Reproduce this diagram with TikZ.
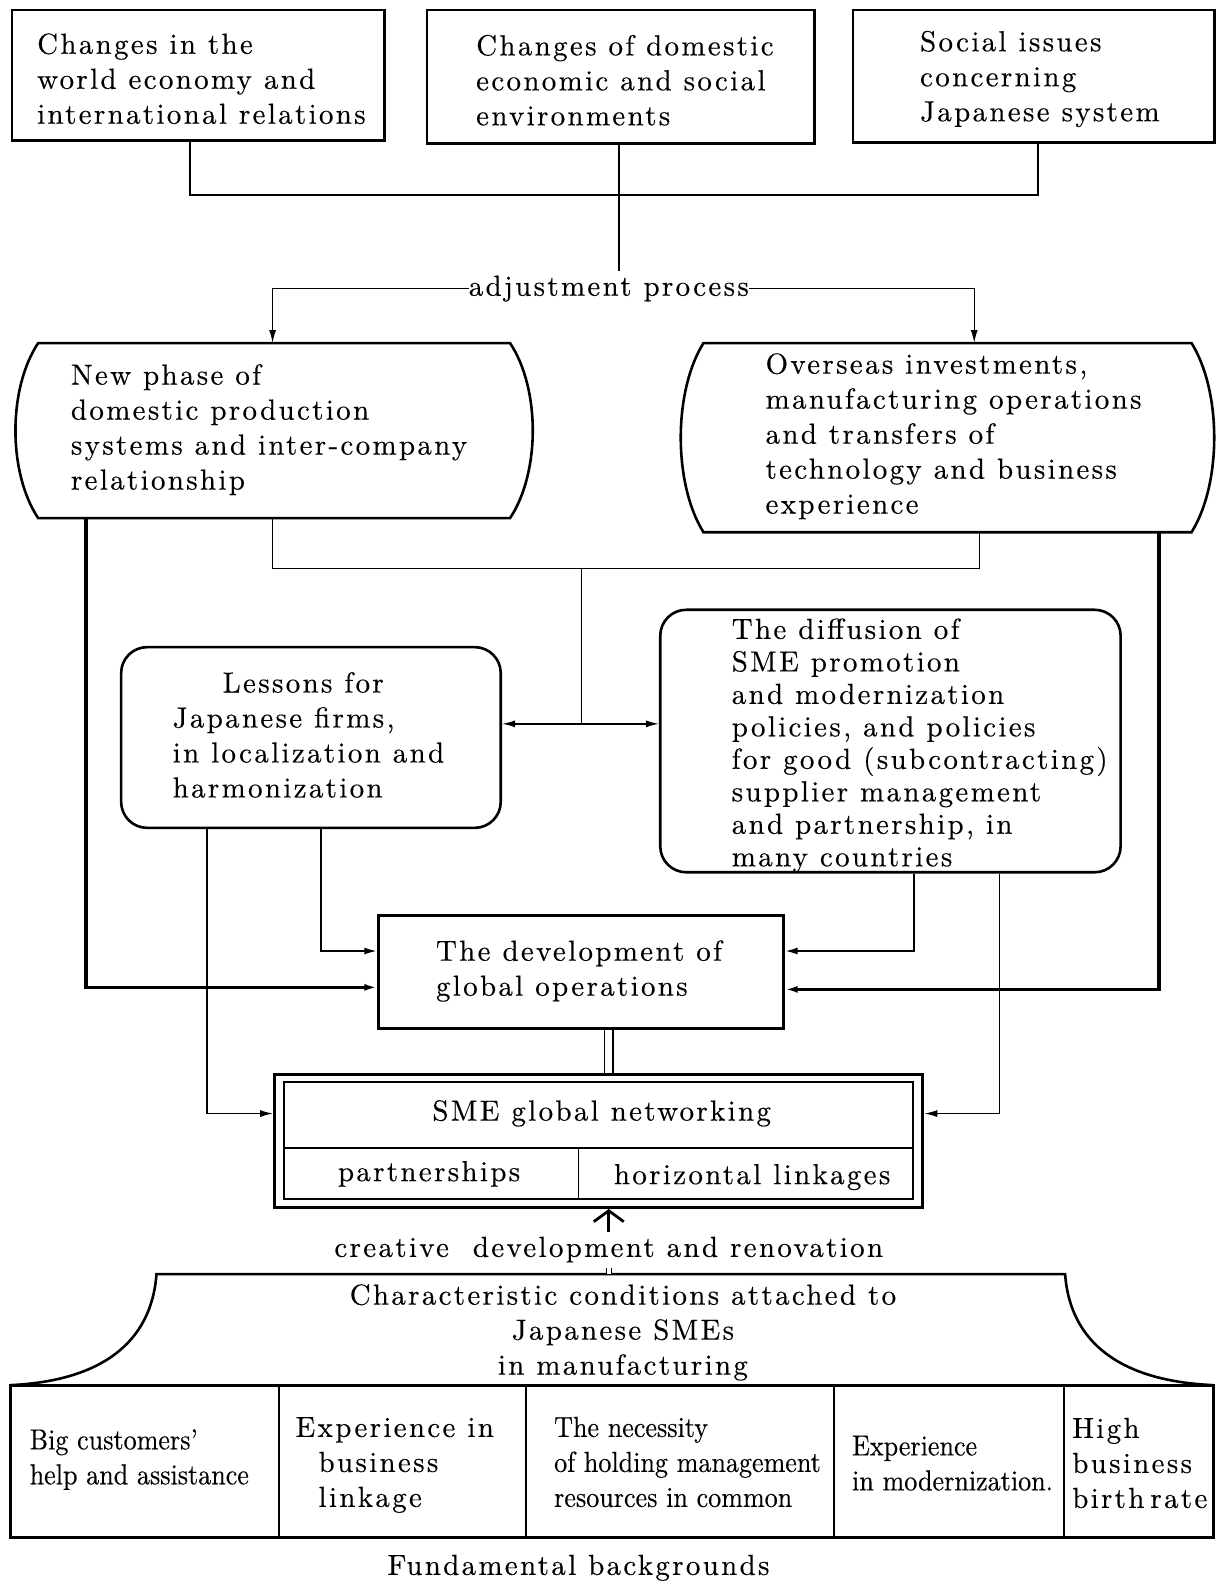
\documentclass[tikz,border=0pt]{standalone}
\usepackage{fontspec}
\usetikzlibrary{fit,arrows.meta,calc}
\newfontfamily\widefont{lmroman10-regular.otf}[LetterSpace=8,FakeBold=0.3]
\newfontfamily\plainfont{lmroman10-regular.otf}[FakeStretch=0.9,FakeBold=0.3]
\newcommand\myW{\widefont\fontsize{29}{35}\selectfont}
\newcommand\myWd{\widefont\fontsize{29}{32.5}\selectfont}
\newcommand\myP{\plainfont\fontsize{29}{35}\selectfont}
\newcommand\ml[1]{\begin{tabular}{@{}l@{}}#1\end{tabular}}
\newcommand\mc[1]{\begin{tabular}{@{}c@{}}#1\end{tabular}}
\tikzset{
  box/.style={draw, line width=2.6pt, inner sep=0pt},
  rbox/.style={box, rounded corners=26pt},
  hexi/.style={inner sep=0pt},
  txt/.style={inner sep=0pt, font=\myW},
  conn/.style={line width=1.4pt},
  med/.style={line width=2pt},
  thk/.style={line width=3.4pt},
  arr/.style={-{Latex[length=13pt,width=7pt]}},
  bw/.style={line width=2.6pt},
  cellb/.style={inner sep=0pt},
  smecell/.style={draw, line width=1.8pt, inner sep=0pt},
}
\begin{document}
\begin{tikzpicture}[x=1.01pt,y=-1.01pt]
\useasboundingbox (0,0) rectangle (1206,1568);
% top boxes
\node[box, fit={(12,10)(381,139)}] (b1) {};
\node[txt] (b1t) at (199.5,81) {\ml{Changes in the\\world economy and\\international relations}};
\node[box, fit={(423,10)(807,142)}] (b2) {};
\node[txt] (b2t) at (619,82.5) {\ml{Changes of domestic\\economic and social\\environments}};
\node[box, fit={(845,10)(1203,141)}] (b3) {};
\node[txt] (b3t) at (1030,78.5) {\ml{Social issues\\concerning\\Japanese system}};
\coordinate (j1) at (188,193);
\coordinate (j3) at (1028,193);
\coordinate (jm) at (613,193);
\draw[conn] (j1 |- b1.south) -- (j1) -- (j3) -- (j3 |- b3.south);
\node[txt] (adj) at (603,286) {\ml{adjustment process}};
\draw[conn] (jm |- b2.south) -- (jm |- adj.north);
% curved boxes
\node[hexi, fit={(38,340)(505,513)}] (h1) {};
\node[txt] (h1t) at (266.5,426) {\ml{New phase of\\domestic production\\systems and inter-company\\relationship}};
\draw[bw] (h1.north west) -- (h1.north east)
  .. controls ($(h1.north east)+(30,45)$) and ($(h1.south east)+(30,-45)$) .. (h1.south east)
  -- (h1.south west)
  .. controls ($(h1.south west)+(-30,-45)$) and ($(h1.north west)+(-30,45)$) .. (h1.north west) -- cycle;
\node[hexi, fit={(697,340)(1180,527)}] (h2) {};
\node[txt] (h2t) at (944.5,432.5) {\ml{Overseas investments,\\manufacturing operations\\and transfers of\\technology and business\\experience}};
\draw[bw] (h2.north west) -- (h2.north east)
  .. controls ($(h2.north east)+(30,48)$) and ($(h2.south east)+(30,-48)$) .. (h2.south east)
  -- (h2.south west)
  .. controls ($(h2.south west)+(-30,-48)$) and ($(h2.north west)+(-30,48)$) .. (h2.north west) -- cycle;
\coordinate (aL) at (270,286);
\coordinate (aR) at (965,286);
\draw[conn,arr] (adj.west) -- (aL) -- (aL |- h1.north);
\draw[conn,arr] (adj.east) -- (aR) -- (aR |- h2.north);
% middle boxes
\node[rbox, fit={(120,641)(496,820)}] (les) {};
\node[txt] (lest) at (305.5,731) {\ml{\hspace*{50pt}Lessons for\\Japanese firms,\\in localization and\\harmonization}};
\node[rbox, fit={(654,604)(1110,864)}] (dif) {};
\node[txt, font=\myWd] (dift) at (911,739) {\ml{The diffusion of\\SME promotion\\and modernization\\policies, and policies\\for good (subcontracting)\\supplier management\\and partnership, in\\many countries}};
\node[box, fit={(375,907)(776,1019)}] (dg) {};
\node[txt] (dgt) at (573.5,962) {\ml{The development of\\global operations}};
% connectors from curved boxes
\coordinate (m1) at (270,563);
\coordinate (m2) at (970,563);
\coordinate (m3) at (576,563);
\coordinate (m4) at (576,717);
\draw[conn] (m1 |- h1.south) -- (m1) -- (m2) -- (m2 |- h2.south);
\draw[conn] (m3) -- (m4);
\draw[conn,{Latex[length=13pt,width=7pt]}-{Latex[length=13pt,width=7pt]}] (les.east |- m4) -- (dif.west |- m4);
\coordinate (k1) at (85,978);
\coordinate (k2) at (1148,980);
\draw[thk,arr] (k1 |- h1.south) -- (k1) -- (k1 -| dg.west);
\draw[thk,arr] (k2 |- h2.south) -- (k2) -- (k2 -| dg.east);
% SME box
\node[draw, line width=3pt, inner sep=0pt, fit={(272,1064)(914,1196)}] (smeo) {};
\node[smecell, fit={(281,1072)(904,1137)}] (smet) {};
\node[smecell, fit={(281,1137)(573,1188)}] (smel) {};
\node[smecell, fit={(573,1137)(904,1188)}] (smer) {};
\node[txt] (smett) at (596,1103) {\ml{SME global networking}};
\node[txt] (smelt) at (425,1163) {\ml{partnerships}};
\node[txt] (smert) at (745,1166) {\ml{horizontal linkages}};
% connectors from middle boxes
\coordinate (l1) at (205,1103);
\coordinate (l2) at (318,942);
\coordinate (d1) at (905,942);
\coordinate (d2) at (990,1103);
\draw[conn,arr] (l1 |- les.south) -- (l1) -- (l1 -| smeo.west);
\draw[med,arr] (l2 |- les.south) -- (l2) -- (l2 -| dg.west);
\draw[med,arr] (d1 |- dif.south) -- (d1) -- (d1 -| dg.east);
\draw[conn,arr] (d2 |- dif.south) -- (d2) -- (d2 -| smeo.east);
\coordinate (dd) at (603,1040);
\draw[line width=1.5pt, double distance=7pt] (dd |- dg.south) -- (dd |- smeo.north);
% creative development
\node[txt] (cre) at (603,1238) {\ml{creative\ \ development and renovation}};
\coordinate (ca) at (603,1200);
\draw[line width=2.8pt,-{Straight Barb[length=11pt,width=30pt]}] (ca |- cre.north) -- (ca |- smeo.south);
% characteristic conditions
\coordinate (tl) at (155,1262);
\coordinate (tr) at (1055,1262);
\coordinate (bl) at (10,1372);
\coordinate (br) at (1202,1372);
\draw[bw] (bl) .. controls (100,1368) and (150,1330) .. (tl) -- (tr) .. controls (1060,1330) and (1110,1368) .. (br);
\draw[line width=1pt, double distance=4pt] (ca |- cre.south) -- (ca |- tl);
\node[txt] (chr) at (617,1320) {\mc{Characteristic conditions attached to\\Japanese SMEs\\in manufacturing}};
% bottom table
\node[draw, line width=3pt, inner sep=0pt, fit={(10,1372)(1202,1523)}] (tb) {};
\node[cellb, fit={(10,1372)(276,1523)}] (c1) {};
\node[cellb, fit={(276,1372)(521,1523)}] (c2) {};
\node[cellb, fit={(521,1372)(826,1523)}] (c3) {};
\node[cellb, fit={(826,1372)(1054,1523)}] (c4) {};
\node[cellb, fit={(1054,1372)(1202,1523)}] (c5) {};
\node[txt, font=\myP] (c1t) at (138,1446) {\ml{Big customers’\\help and assistance}};
\node[txt] (c2t) at (391,1451) {\ml{Experience in\\\hspace*{23pt}business\\\hspace*{23pt}linkage}};
\node[txt, font=\myP] (c3t) at (681,1451) {\ml{The necessity\\of holding management\\resources in common}};
\node[txt, font=\myP] (c4t) at (943.5,1452) {\ml{Experience\\in modernization.}};
\node[txt] (c5t) at (1129,1452) {\ml{High\\business\\birth\hspace{6pt}rate}};
\draw[line width=2.2pt] (c1.north east) -- (c1.south east);
\draw[line width=2.2pt] (c2.north east) -- (c2.south east);
\draw[line width=2.2pt] (c3.north east) -- (c3.south east);
\draw[line width=2.2pt] (c4.north east) -- (c4.south east);
\node[txt] (fb) at (573,1553) {\ml{Fundamental backgrounds}};
\end{tikzpicture}
\end{document}
